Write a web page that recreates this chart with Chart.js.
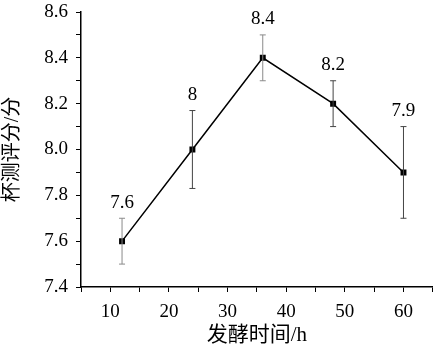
<!DOCTYPE html>
<html>
<head>
<meta charset="utf-8">
<script src="https://cdn.jsdelivr.net/npm/chart.js@4/dist/chart.umd.min.js"></script>
<style>
html,body{margin:0;padding:0;background:#fff;}
#wrap{width:437px;height:360px;position:relative;}
</style>
</head>
<body>
<div id="wrap"><canvas id="c" width="437" height="360"></canvas></div>
<script>
// Data
const hours = [12, 24, 36, 48, 60];
const scores = [7.6, 8.0, 8.4, 8.2, 7.9];
const errors = [0.1, 0.17, 0.1, 0.1, 0.2];
const pointLabels = ['7.6', '8', '8.4', '8.2', '7.9'];
const errorColors = ['#8a8a8a', '#444444', '#8a8a8a', '#444444', '#444444'];
const xTitle = '发酵时间/h';
const yTitle = '杯测评分/分';

const FONT = '"Liberation Serif", "Times New Roman", "Noto Sans CJK SC", serif';

const errorBarPlugin = {
  id: 'errorBars',
  afterDatasetsDraw(chart) {
    const ctx = chart.ctx;
    const xs = chart.scales.x, ys = chart.scales.y;
    ctx.save();
    for (let i = 0; i < hours.length; i++) {
      const px = xs.getPixelForValue(hours[i]);
      const top = ys.getPixelForValue(scores[i] + errors[i]);
      const bot = ys.getPixelForValue(scores[i] - errors[i]);
      ctx.strokeStyle = errorColors[i];
      ctx.lineWidth = 1;
      ctx.beginPath();
      ctx.moveTo(px, top); ctx.lineTo(px, bot);
      ctx.moveTo(px - 3, top); ctx.lineTo(px + 3, top);
      ctx.moveTo(px - 3, bot); ctx.lineTo(px + 3, bot);
      ctx.stroke();
      ctx.fillStyle = '#000';
      ctx.font = '19px ' + FONT;
      ctx.textAlign = 'center';
      ctx.textBaseline = 'bottom';
      ctx.fillText(pointLabels[i], px, top - 6);
    }
    ctx.restore();
  }
};

new Chart(document.getElementById('c'), {
  type: 'line',
  data: {
    datasets: [{
      data: hours.map((h, i) => ({x: h, y: scores[i]})),
      borderColor: '#000',
      borderWidth: 1.5,
      pointStyle: 'rect',
      pointRadius: 4.2,
      pointBackgroundColor: '#000',
      pointBorderColor: '#000',
      pointBorderWidth: 0,
      tension: 0,
      fill: false
    }]
  },
  options: {
    responsive: false,
    animation: false,
    events: [],
    layout: {padding: {top: 12, right: 0, left: 0, bottom: 0}},
    plugins: {legend: {display: false}, tooltip: {enabled: false}},
    scales: {
      x: {
        type: 'linear',
        min: 5, max: 65,
        border: {display: true, color: '#000', width: 1.5},
        grid: {display: true, drawOnChartArea: false, drawTicks: true, tickLength: 5, color: '#000', lineWidth: 1},
        ticks: {
          stepSize: 5, autoSkip: false, maxRotation: 0, padding: 9,
          color: '#000', font: {family: FONT, size: 19},
          callback: (v) => (Math.round(v) % 10 === 0 ? String(Math.round(v)) : '')
        },
        title: {display: true, text: xTitle, color: '#000', font: {family: FONT, size: 21}, padding: {top: 0, bottom: 12}},
        afterFit: (s) => { s.height = 73; s.paddingRight = 0; s.paddingLeft = 0; }
      },
      y: {
        min: 7.4, max: 8.6,
        border: {display: true, color: '#000', width: 1.5},
        grid: {display: true, drawOnChartArea: false, drawTicks: true, tickLength: 5, color: '#000', lineWidth: 1},
        ticks: {
          stepSize: 0.1, autoSkip: false, padding: 8,
          color: '#000', font: {family: FONT, size: 19},
          callback: (v) => (Math.round(v * 10) % 2 === 0 ? v.toFixed(1) : '')
        },
        title: {display: true, text: yTitle, color: '#000', font: {family: FONT, size: 20}, padding: {top: 1, bottom: 2}},
        afterFit: (s) => { s.width = 81; s.paddingTop = 0; s.paddingBottom = 0; }
      }
    }
  },
  plugins: [errorBarPlugin]
});
</script>
</body>
</html>
